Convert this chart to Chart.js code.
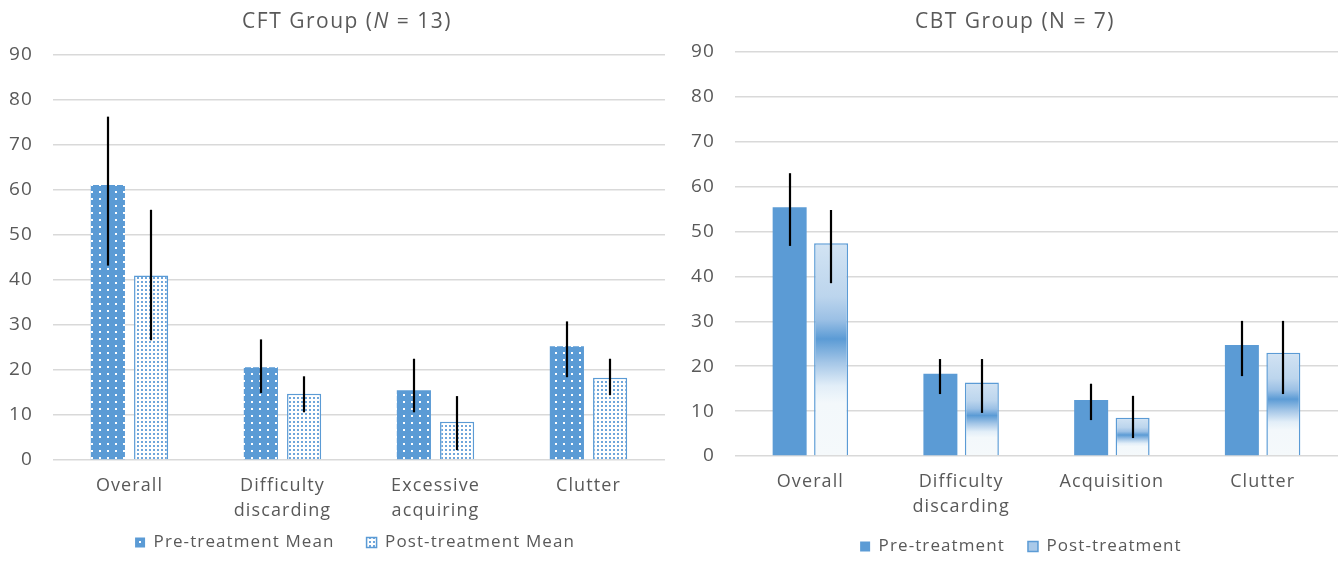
<!DOCTYPE html>
<html>
<head>
<meta charset="utf-8">
<script src="https://cdn.jsdelivr.net/npm/chart.js@4.4.1/dist/chart.umd.min.js"></script>
<style>
  html, body { margin: 0; padding: 0; background: #fff; }
  #wrap { position: relative; width: 1343px; height: 561px; overflow: hidden; font-family: "Open Sans", sans-serif; }
  .title { position: absolute; top: 6px; font-size: 21px; letter-spacing: 1.5px; color: #595959; white-space: nowrap; transform: translateX(-50%); }
  canvas { position: absolute; top: 0; }
</style>
</head>
<body>
<div id="wrap">
  <canvas id="c1" width="672" height="561" style="left:0px"></canvas>
  <canvas id="c2" width="671" height="561" style="left:672px"></canvas>
  <div class="title" style="left:347px">CFT Group (<i>N</i> = 13)</div>
  <div class="title" style="left:1015px">CBT Group (N = 7)</div>
</div>
<script>
// ---------- data ----------
const cftCategories = [["Overall"], ["Difficulty", "discarding"], ["Excessive", "acquiring"], ["Clutter"]];
const cftPre = [61.1, 20.6, 15.5, 25.3];
const cftPost = [41.0, 14.7, 8.5, 18.3];
const cftPreLow = [43.2, 14.9, 10.6, 18.4];
const cftPreHigh = [76.3, 26.8, 22.5, 30.8];
const cftPostLow = [26.6, 10.6, 2.2, 14.4];
const cftPostHigh = [55.6, 18.6, 14.2, 22.5];

const cbtCategories = [["Overall"], ["Difficulty", "discarding"], ["Acquisition"], ["Clutter"]];
const cbtPre = [55.4, 18.3, 12.5, 24.7];
const cbtPost = [47.4, 16.4, 8.5, 23.0];
const cbtPreLow = [46.8, 13.8, 8.0, 17.8];
const cbtPreHigh = [63.0, 21.6, 16.1, 30.1];
const cbtPostLow = [38.5, 9.6, 4.0, 13.8];
const cbtPostHigh = [54.8, 21.6, 13.4, 30.1];

const yTicks = [0, 10, 20, 30, 40, 50, 60, 70, 80, 90];

// ---------- styles ----------
const BLUE = '#5B9BD5';
const TEXT = '#595959';
const GRID = '#d9d9d9';
const FONT = '"Open Sans", sans-serif';

function makePattern(w, h, bg, fg, dots) {
  const c = document.createElement('canvas');
  c.width = w; c.height = h;
  const x = c.getContext('2d');
  x.fillStyle = bg; x.fillRect(0, 0, w, h);
  x.fillStyle = fg;
  dots.forEach(d => x.fillRect(d[0], d[1], 2, 2));
  return document.createElement('canvas').getContext('2d').createPattern(c, 'repeat');
}
const prePattern = makePattern(8, 7, BLUE, '#ffffff', [[3, 2]]);
const postPattern = makePattern(4, 4, '#ffffff', '#6fa6db', [[1, 1]]);

function gradientFill(ctx) {
  const chart = ctx.chart;
  if (!chart.chartArea || ctx.type !== 'data') return '#b9d3ec';
  const ys = chart.scales.y;
  const top = ys.getPixelForValue(ctx.raw);
  const bot = ys.getPixelForValue(0);
  if (!isFinite(top) || bot - top < 1) return '#b9d3ec';
  const g = chart.ctx.createLinearGradient(0, top, 0, bot);
  g.addColorStop(0, '#d2e3f3');
  g.addColorStop(0.25, '#bcd5ed');
  g.addColorStop(0.36, '#9bc0e5');
  g.addColorStop(0.45, '#5b9bd5');
  g.addColorStop(0.56, '#a4c6e7');
  g.addColorStop(0.67, '#e2eef8');
  g.addColorStop(0.75, '#f3f8fb');
  g.addColorStop(1, '#f5f9fb');
  return g;
}

const spacingPlugin = {
  id: 'letterSpacing',
  beforeDraw(chart) { chart.ctx.letterSpacing = '1.1px'; }
};

const errorBarPlugin = {
  id: 'errorBars',
  afterDatasetsDraw(chart) {
    const c = chart.ctx;
    const ys = chart.scales.y;
    c.save();
    c.strokeStyle = '#000';
    c.lineWidth = 2.2;
    chart.data.datasets.forEach((ds, i) => {
      const meta = chart.getDatasetMeta(i);
      meta.data.forEach((bar, j) => {
        const lo = ys.getPixelForValue(ds.errLow[j]);
        const hi = ys.getPixelForValue(ds.errHigh[j]);
        c.beginPath();
        c.moveTo(Math.round(bar.x), lo);
        c.lineTo(Math.round(bar.x), hi);
        c.stroke();
      });
    });
    c.restore();
  }
};

function buildChart(el, cfg) {
  return new Chart(el, {
    type: 'bar',
    data: {
      labels: cfg.categories,
      datasets: cfg.datasets
    },
    options: {
      responsive: false,
      animation: false,
      devicePixelRatio: 1,
      layout: { padding: { top: cfg.padTop, right: cfg.padRight, left: 0, bottom: cfg.padBottom } },
      datasets: { bar: { categoryPercentage: cfg.catPct, barPercentage: cfg.barPct } },
      plugins: {
        title: { display: false },
        tooltip: { enabled: false },
        legend: {
          position: 'bottom',
          labels: {
            color: TEXT,
            font: { family: FONT, size: 17 },
            boxWidth: 10,
            boxHeight: 10,
            padding: cfg.legendPad,
            generateLabels: cfg.legendLabels
          }
        }
      },
      scales: {
        x: {
          grid: { display: false, drawTicks: false },
          border: { display: false },
          ticks: { color: TEXT, font: { family: FONT, size: 18, lineHeight: 1.35 }, padding: cfg.xPad, maxRotation: 0, autoSkip: false },
          afterFit(s) { s.height = cfg.xHeight; }
        },
        y: {
          min: 0, max: 90,
          afterBuildTicks(s) { s.ticks = yTicks.map(v => ({ value: v })); },
          grid: { color: GRID, lineWidth: 1.5, drawTicks: false },
          border: { display: false },
          ticks: { color: TEXT, font: { family: FONT, size: 19 }, padding: 20 },
          afterFit(s) { s.width = cfg.yWidth; }
        }
      }
    },
    plugins: [spacingPlugin, errorBarPlugin]
  });
}

buildChart(document.getElementById('c1'), {
  categories: cftCategories,
  padTop: 55, padRight: 7, padBottom: 0,
  catPct: 0.565, barPct: 0.79,
  yWidth: 53, xHeight: 64, xPad: 14, legendPad: 10,
  legendLabels: (chart) => [
    { text: 'Pre-treatment Mean    ', fillStyle: prePattern, strokeStyle: BLUE, lineWidth: 0, fontColor: TEXT, datasetIndex: 0 },
    { text: 'Post-treatment Mean', fillStyle: postPattern, strokeStyle: BLUE, lineWidth: 1.5, fontColor: TEXT, datasetIndex: 1 }
  ],
  datasets: [
    { label: 'Pre-treatment Mean', data: cftPre, errLow: cftPreLow, errHigh: cftPreHigh, backgroundColor: prePattern, borderWidth: 0 },
    { label: 'Post-treatment Mean', data: cftPost, errLow: cftPostLow, errHigh: cftPostHigh, backgroundColor: postPattern, borderColor: BLUE, borderWidth: 1.5 }
  ]
});

buildChart(document.getElementById('c2'), {
  categories: cbtCategories,
  padTop: 52, padRight: 5, padBottom: -4,
  catPct: 0.55, barPct: 0.82,
  yWidth: 63, xHeight: 70, xPad: 14, legendPad: 12,
  legendLabels: (chart) => [
    { text: 'Pre-treatment  ', fillStyle: BLUE, strokeStyle: BLUE, lineWidth: 0, fontColor: TEXT, datasetIndex: 0 },
    { text: 'Post-treatment', fillStyle: '#a9c9e9', strokeStyle: BLUE, lineWidth: 1.5, fontColor: TEXT, datasetIndex: 1 }
  ],
  datasets: [
    { label: 'Pre-treatment', data: cbtPre, errLow: cbtPreLow, errHigh: cbtPreHigh, backgroundColor: BLUE, borderWidth: 0 },
    { label: 'Post-treatment', data: cbtPost, errLow: cbtPostLow, errHigh: cbtPostHigh, backgroundColor: gradientFill, borderColor: BLUE, borderWidth: 1.5 }
  ]
});
</script>
</body>
</html>
